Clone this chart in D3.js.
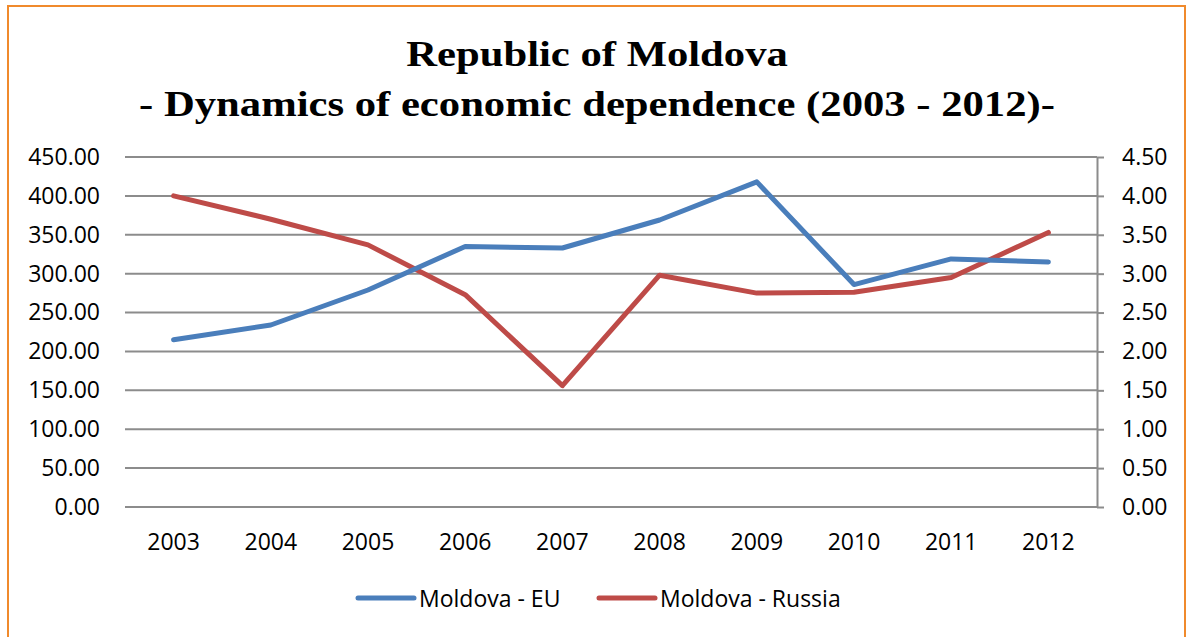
<!DOCTYPE html>
<html>
<head>
<meta charset="utf-8">
<script src="https://cdn.jsdelivr.net/npm/d3@7/dist/d3.min.js"></script>
<style>
  html, body { margin: 0; padding: 0; background: #fff; }
  svg { display: block; }
</style>
</head>
<body>
<svg id="chart" width="1192" height="637"></svg>
<script>
// Years on the category axis
const years = ["2003","2004","2005","2006","2007","2008","2009","2010","2011","2012"];
// Moldova - EU (left axis)
const euValues = [215, 234, 279, 335, 333, 369, 418, 286, 319, 315];
// Moldova - Russia (right axis)
const russiaValues = [4.00, 3.70, 3.37, 2.73, 1.56, 2.98, 2.75, 2.76, 2.95, 3.53];
// Tick values for both value axes
const leftTicks = [0, 50, 100, 150, 200, 250, 300, 350, 400, 450];
const rightTicks = [0, 0.5, 1, 1.5, 2, 2.5, 3, 3.5, 4, 4.5];
const titleLines = ["Republic of Moldova", "- Dynamics of economic dependence (2003 - 2012)-"];
const seriesNames = ["Moldova - EU", "Moldova - Russia"];
const colors = ["#4A7EBB", "#BE4B48"];

const svg = d3.select("#chart");
const plot = { left: 125, right: 1097, top: 157, bottom: 507 };
const axisFont = "'Open Sans', sans-serif";

// Frame
svg.append("rect")
  .attr("x", 8).attr("y", 6)
  .attr("width", 1177).attr("height", 640)
  .attr("fill", "#fff")
  .attr("stroke", "#F08A2C").attr("stroke-width", 2);

// Title (wide serif lettering)
const centerX = 597;
svg.append("g")
  .attr("transform", `translate(${centerX},0) scale(1.185,1)`)
  .selectAll("text").data(titleLines).join("text")
  .attr("x", 0)
  .attr("y", (d, i) => 66 + i * 50)
  .attr("text-anchor", "middle")
  .attr("font-family", "'Liberation Serif', 'Times New Roman', serif")
  .attr("font-weight", "bold")
  .attr("font-size", 36)
  .text(d => d);

const x = d3.scaleBand().domain(years).range([plot.left, plot.right]);
const yL = d3.scaleLinear().domain([0, 450]).range([plot.bottom, plot.top]);
const yR = d3.scaleLinear().domain([0, 4.5]).range([plot.bottom, plot.top]);

// Horizontal gridlines
svg.append("g").selectAll("line").data(leftTicks).join("line")
  .attr("x1", plot.left).attr("x2", plot.right)
  .attr("y1", d => yL(d)).attr("y2", d => yL(d))
  .attr("stroke", "#8C8C8C").attr("stroke-width", 2);

// Left axis labels
const leftAxis = d3.axisLeft(yL).tickValues(leftTicks)
  .tickFormat(d3.format(".2f")).tickSize(0).tickPadding(25);
const gL = svg.append("g").attr("transform", `translate(${plot.left},0)`).call(leftAxis);
gL.select(".domain").remove();
gL.selectAll("text").attr("font-family", axisFont).attr("font-size", 23).attr("fill", "#000");

// Right axis with outward ticks
const rightAxis = d3.axisRight(yR).tickValues(rightTicks)
  .tickFormat(d3.format(".2f")).tickSizeInner(7).tickSizeOuter(0).tickPadding(18);
const gR = svg.append("g").attr("transform", `translate(${plot.right},0)`).call(rightAxis);
gR.select(".domain").attr("stroke", "#8C8C8C").attr("stroke-width", 2);
gR.selectAll("line").attr("stroke", "#8C8C8C").attr("stroke-width", 2);
gR.selectAll("text").attr("font-family", axisFont).attr("font-size", 23).attr("fill", "#000");

// Category axis labels
const bottomAxis = d3.axisBottom(x).tickSize(0).tickPadding(27);
const gB = svg.append("g").attr("transform", `translate(0,${plot.bottom})`).call(bottomAxis);
gB.select(".domain").remove();
gB.selectAll("text").attr("font-family", axisFont).attr("font-size", 23).attr("fill", "#000");

// Series lines
const cx = d => x(d) + x.bandwidth() / 2;
const lineEU = d3.line().x((d, i) => cx(years[i])).y(d => yL(d));
const lineRU = d3.line().x((d, i) => cx(years[i])).y(d => yR(d));

svg.append("path").datum(russiaValues)
  .attr("d", lineRU).attr("fill", "none")
  .attr("stroke", colors[1]).attr("stroke-width", 5)
  .attr("stroke-linejoin", "round").attr("stroke-linecap", "round");
svg.append("path").datum(euValues)
  .attr("d", lineEU).attr("fill", "none")
  .attr("stroke", colors[0]).attr("stroke-width", 5)
  .attr("stroke-linejoin", "round").attr("stroke-linecap", "round");

// Legend
const legendX = [358, 599];
const lg = svg.append("g").selectAll("g").data(seriesNames).join("g")
  .attr("transform", (d, i) => `translate(${legendX[i]},598)`);
lg.append("line").attr("x1", 0).attr("x2", 56).attr("y1", 0).attr("y2", 0)
  .attr("stroke", (d, i) => colors[i]).attr("stroke-width", 5)
  .attr("stroke-linecap", "round");
lg.append("text").attr("x", 61).attr("y", 9)
  .attr("font-family", axisFont).attr("font-size", 23).attr("fill", "#000")
  .text(d => d);
</script>
</body>
</html>
